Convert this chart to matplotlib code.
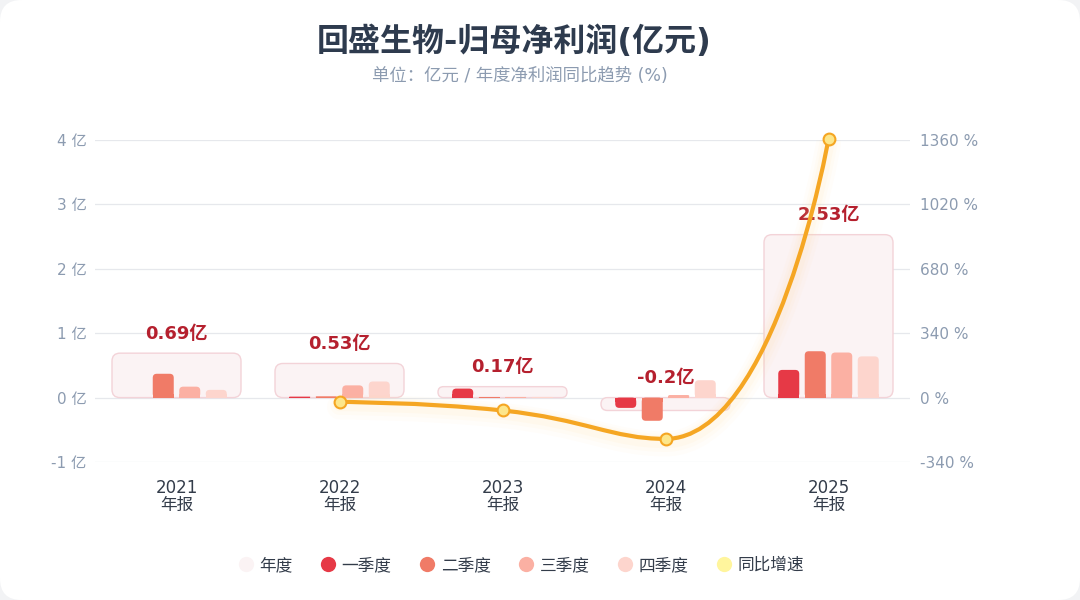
import numpy as np
import matplotlib
matplotlib.use("Agg")
import matplotlib.pyplot as plt
from matplotlib.patches import FancyBboxPatch, Rectangle, PathPatch
from matplotlib.path import Path
from matplotlib.lines import Line2D

plt.rcParams['font.family'] = ['DejaVu Sans', 'Noto Sans CJK SC']

# Data
years = ["2021", "2022", "2023", "2024", "2025"]
period = "年报"
annual = [0.69, 0.53, 0.17, -0.2, 2.53]
q1 = [0.0, 0.015, 0.14, -0.16, 0.43]
q2 = [0.37, 0.02, 0.01, -0.36, 0.72]
q3 = [0.17, 0.19, 0.01, 0.04, 0.70]
q4 = [0.12, 0.25, 0.01, 0.27, 0.64]
yoy = [None, -23, -68, -218, 1365]
left_ticks = [-1, 0, 1, 2, 3, 4]
right_ticks = [-340, 0, 340, 680, 1020, 1360]

quarter_names = ["一季度", "二季度", "三季度", "四季度"]
quarter_colors = ["#e63946", "#f07b67", "#fbb0a3", "#fdd5cd"]
annual_face = "#fbf3f4"
annual_edge = "#f3d3d8"
label_color = "#b5202e"
line_color = "#f5a623"
tick_color = "#8c9bb0"
text_color = "#333c4a"

W, H = 1080, 600
fig = plt.figure(figsize=(W / 100, H / 100), dpi=100)
fig.patch.set_facecolor("#f2f3f5")
fig.patches.append(FancyBboxPatch((0, 0), 1, 1, boxstyle="round,pad=0,rounding_size=0.02",
                                  mutation_aspect=W / H, transform=fig.transFigure,
                                  facecolor="white", edgecolor="none", zorder=-10))

ax_l, ax_r, ax_t, ax_b = 95, 910, 140, 462
ax = fig.add_axes([ax_l / W, 1 - ax_b / H, (ax_r - ax_l) / W, (ax_b - ax_t) / H])
ax.set_facecolor("none")
ax.set_xlim(-0.5, 4.5)
ax.set_ylim(-1, 4)
ax2 = ax.twinx()
ax2.set_ylim(-340, 1360)

px_x = (ax_r - ax_l) / 5.0        # pixels per category
px_y = (ax_b - ax_t) / 5.0        # pixels per 亿
px_y2 = (ax_b - ax_t) / 1700.0    # pixels per %

for a in (ax, ax2):
    for s in a.spines.values():
        s.set_visible(False)
    a.tick_params(length=0)

ax.set_yticks(left_ticks)
ax.set_yticklabels([f"{t} 亿" for t in left_ticks], color=tick_color, fontsize=11)
ax.tick_params(axis="y", pad=6)
ax2.set_yticks(right_ticks)
ax2.set_yticklabels([f"{t} %" for t in right_ticks], color=tick_color, fontsize=11)
ax2.tick_params(axis="y", pad=7)
ax.set_xticks(range(len(years)))
ax.set_xticklabels([f"{y}\n{period}" for y in years], color=text_color, fontsize=12,
                   linespacing=0.98)
ax.tick_params(axis="x", pad=12)
for t in left_ticks:
    ax.axhline(t, color="#e6e8ec", lw=0.9, zorder=0)

# annual background boxes
box_w = 129 / px_x
for i, v in enumerate(annual):
    h = abs(v)
    r_px = min(8, h * px_y / 2)
    y0 = min(v, 0)
    ax.add_patch(FancyBboxPatch((i - box_w / 2, y0), box_w, h,
                                boxstyle=f"round,pad=0,rounding_size={r_px / px_x}",
                                mutation_aspect=px_x / px_y,
                                facecolor=annual_face, edgecolor=annual_edge, lw=1.0, zorder=1))
    ax.annotate(f"{v:g}亿", (i, max(v, 0)), xytext=(0, 7.5), textcoords="offset points",
                ha="center", va="bottom", color=label_color, fontsize=13, fontweight="bold",
                zorder=6)

# quarterly bars (rounded on the outer end)
bar_w = 21 / px_x
step = 26.5 / px_x
for k, series in enumerate([q1, q2, q3, q4]):
    for i, v in enumerate(series):
        if v == 0:
            continue
        xc = i + (k - 1.5) * step
        h = abs(v)
        r_px = min(4, h * px_y / 2)
        y0 = min(v, 0)
        ax.add_patch(FancyBboxPatch((xc - bar_w / 2, y0), bar_w, h,
                                    boxstyle=f"round,pad=0,rounding_size={r_px / px_x}",
                                    mutation_aspect=px_x / px_y,
                                    facecolor=quarter_colors[k], edgecolor="none", zorder=2))
        # square off the end touching zero
        sq = min(h, r_px / px_y)
        ax.add_patch(Rectangle((xc - bar_w / 2, 0 if v > 0 else -sq), bar_w, sq,
                               facecolor=quarter_colors[k], edgecolor="none", zorder=2))

# smooth yoy line (echarts-style bezier with constraint)
pts = [(i, v) for i, v in enumerate(yoy) if v is not None]
P = np.array([(x * px_x, y * px_y2) for x, y in pts])
smooth = 0.5
n = len(P)
verts = [tuple(P[0])]
codes = [Path.MOVETO]
cp0 = P[0].copy()
for i in range(1, n):
    x, y = P[i]
    px_, py_ = P[i - 1]
    if i == n - 1:
        cp1 = P[i].copy()
        next_cp0 = P[i].copy()
    else:
        nx, ny = P[i + 1]
        vx, vy = nx - px_, ny - py_
        l0 = np.hypot(x - px_, y - py_)
        l1 = np.hypot(nx - x, ny - y)
        ratio = l1 / (l0 + l1)
        ncx = x + vx * smooth * ratio
        ncy = y + vy * smooth * ratio
        ncx = min(max(ncx, min(nx, x)), max(nx, x))
        ncy = min(max(ncy, min(ny, y)), max(ny, y))
        vx, vy = ncx - x, ncy - y
        c1x = x - vx * l0 / l1
        c1y = y - vy * l0 / l1
        c1x = min(max(c1x, min(px_, x)), max(px_, x))
        c1y = min(max(c1y, min(py_, y)), max(py_, y))
        vx, vy = x - c1x, y - c1y
        ncx = x + vx * l1 / l0
        ncy = y + vy * l1 / l0
        cp1 = np.array([c1x, c1y])
        next_cp0 = np.array([ncx, ncy])
    verts += [tuple(cp0), tuple(cp1), (x, y)]
    codes += [Path.CURVE4] * 3
    cp0 = next_cp0
verts = [(vx_ / px_x, vy_ / px_y2) for vx_, vy_ in verts]
path = Path(verts, codes)

# glow
for lw, alpha, dy in [(18, 0.04, -5), (13, 0.05, -4), (9, 0.07, -3)]:
    shifted = Path([(a, b + dy / px_y2) for a, b in verts], codes)
    ax2.add_patch(PathPatch(shifted, facecolor="none", edgecolor="#ffd98a", lw=lw,
                            alpha=alpha, capstyle="round", zorder=3))
ax2.add_patch(PathPatch(path, facecolor="none", edgecolor=line_color, lw=3, zorder=4,
                        capstyle="round"))
ax2.plot([p[0] for p in pts], [p[1] for p in pts], "o", ms=8.5, mfc="#fde68a",
         mec=line_color, mew=1.5, zorder=5, clip_on=False)

# titles
fig.text(514 / W, 1 - 42 / H, "回盛生物-归母净利润(亿元)", ha="center", va="center",
         fontsize=23, fontweight="bold", color="#2e3b4e")
fig.text(520 / W, 1 - 76 / H, "单位：亿元 / 年度净利润同比趋势 (%)", ha="center", va="center",
         fontsize=12.5, color="#8c9bb0")

# legend
handles = [Line2D([], [], ls="", marker="o", ms=11, mfc=annual_face, mec="none")]
handles += [Line2D([], [], ls="", marker="o", ms=11, mfc=c, mec="none") for c in quarter_colors]
handles += [Line2D([], [], ls="", marker="o", ms=11, mfc="#fff59d", mec="none")]
leg = fig.legend(handles, ["年度"] + quarter_names + ["同比增速"], loc="center",
                 bbox_to_anchor=(520 / W, 1 - 565 / H), ncol=6, frameon=False,
                 fontsize=12, handletextpad=0.2, columnspacing=1.55, handlelength=1.2)
for t in leg.get_texts():
    t.set_color(text_color)

fig.savefig("out.png", dpi=100, facecolor=fig.get_facecolor())
